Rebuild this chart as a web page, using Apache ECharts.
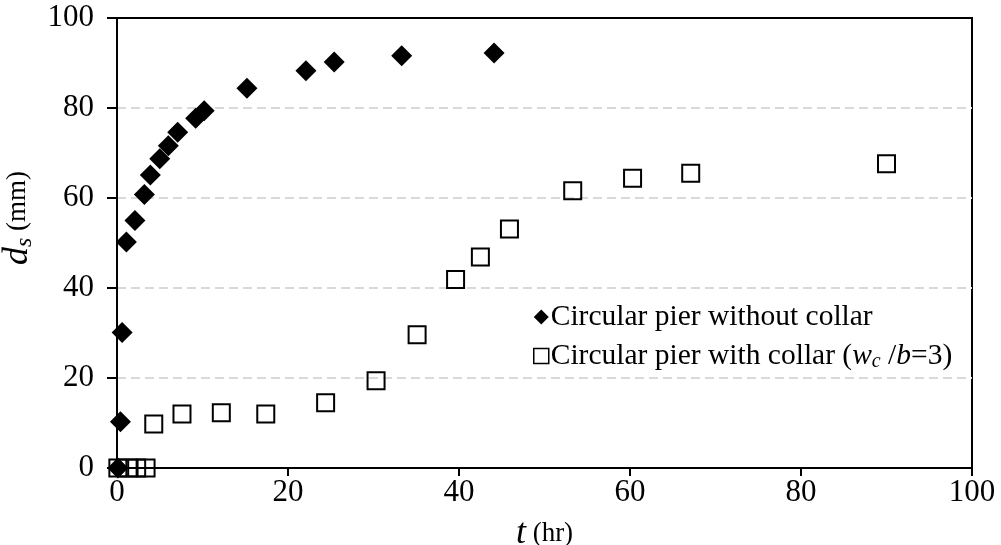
<!DOCTYPE html>
<html>
<head>
<meta charset="utf-8">
<script src="https://cdn.jsdelivr.net/npm/echarts@6/dist/echarts.min.js"></script>
<style>
html,body{margin:0;padding:0;background:#fff;}
#chart{width:1001px;height:545px;}
</style>
</head>
<body>
<div id="chart"></div>
<script>
// Circular pier without collar: [t (hr), d_s (mm)]
const withoutCollar = [
  [0.1, 0], [0.4, 10.3], [0.6, 30.1], [1.1, 50.2], [2.1, 55.0], [3.2, 60.8],
  [3.9, 65.1], [5.0, 68.7], [6.0, 71.6], [7.1, 74.6], [9.2, 77.7], [10.2, 79.4],
  [15.2, 84.4], [22.1, 88.3], [25.4, 90.2], [33.3, 91.6], [44.1, 92.2]
];
// Circular pier with collar (w_c/b = 3)
const withCollar = [
  [0.1, 0], [1.3, 0], [2.3, 0], [3.4, 0], [4.3, 9.8], [7.6, 12.0], [12.2, 12.3],
  [17.4, 12.0], [24.4, 14.5], [30.3, 19.4], [35.1, 29.6], [39.6, 41.9],
  [42.5, 46.9], [45.9, 53.1], [53.3, 61.6], [60.3, 64.4], [67.1, 65.5], [90.0, 67.6]
];
const seriesNames = ['Circular pier without collar', 'Circular pier with collar'];
const xTicks = [0, 20, 40, 60, 80, 100];
const yTicks = [0, 20, 40, 60, 80, 100];

const FONT = '"Liberation Serif", "Times New Roman", serif';
const chart = echarts.init(document.getElementById('chart'));
chart.setOption({
  animation: false,
  backgroundColor: '#fff',
  grid: { left: 117, right: 29, top: 18, bottom: 77, containLabel: false, outerBoundsMode: 'none',
    show: true, borderColor: '#000', borderWidth: 2, backgroundColor: 'transparent' },
  xAxis: {
    type: 'value', min: xTicks[0], max: xTicks[xTicks.length - 1], interval: 20,
    name: '{t|t} (hr)', nameLocation: 'middle', nameGap: 48,
    nameTextStyle: { fontFamily: FONT, fontSize: 27, color: '#000',
      rich: { t: { fontFamily: FONT, fontSize: 36, fontStyle: 'italic', color: '#000' } } },
    axisLine: { lineStyle: { color: '#000', width: 2 } },
    axisTick: { show: true, length: 8, lineStyle: { color: '#000', width: 2 } },
    axisLabel: { fontFamily: FONT, fontSize: 31, color: '#000', margin: 9 },
    splitLine: { show: false }
  },
  yAxis: {
    type: 'value', min: yTicks[0], max: yTicks[yTicks.length - 1], interval: 20,
    name: '{d|d}{s|s} (mm)', nameLocation: 'middle', nameGap: 61, nameRotate: 90,
    nameTextStyle: { fontFamily: FONT, fontSize: 27, color: '#000', padding: [0, 0, 0, 50], lineHeight: 38,
      rich: {
        d: { fontFamily: FONT, fontSize: 36, fontStyle: 'italic', color: '#000', lineHeight: 38 },
        s: { fontFamily: FONT, fontSize: 24, fontStyle: 'italic', color: '#000', verticalAlign: 'bottom', lineHeight: 24, padding: [10, 0, 0, 0] }
      } },
    axisLine: { lineStyle: { color: '#000', width: 2 } },
    axisTick: { show: true, length: 10, lineStyle: { color: '#000', width: 2 } },
    axisLabel: { fontFamily: FONT, fontSize: 31, color: '#000', margin: 23, padding: [5, 0, 0, 0] },
    splitLine: { show: true, showMinLine: false, showMaxLine: false,
      lineStyle: { color: '#d9d9d9', width: 2, type: [9, 5] } }
  },
  legend: {
    orient: 'vertical', left: 528, top: 296, itemWidth: 15, itemHeight: 15, itemGap: 7,
    data: [
      { name: seriesNames[0], icon: 'diamond', itemStyle: { color: '#000', borderWidth: 0 } },
      { name: seriesNames[1], icon: 'rect', itemStyle: { color: '#fff', borderColor: '#000', borderWidth: 1.5 } }
    ],
    formatter: function (n) {
      if (n === seriesNames[1]) return n + ' ({i|w}{sub|c}{n| /}{i|b}=3)';
      return n;
    },
    textStyle: { fontFamily: FONT, fontSize: 29.5, color: '#000', lineHeight: 32, padding: [0, 0, 0, -3],
      rich: {
        i: { fontFamily: FONT, fontSize: 29.5, fontStyle: 'italic', color: '#000', lineHeight: 32 },
        n: { fontFamily: FONT, fontSize: 29.5, color: '#000', lineHeight: 32 },
        sub: { fontFamily: FONT, fontSize: 20, fontStyle: 'italic', color: '#000', verticalAlign: 'bottom', lineHeight: 20, padding: [9, 0, 0, 0] }
      } }
  },
  series: [
    { name: seriesNames[0], type: 'scatter', data: withoutCollar, symbol: 'diamond', symbolSize: 21,
      itemStyle: { color: '#000', borderColor: '#000', borderWidth: 0, opacity: 1 }, z: 3 },
    { name: seriesNames[1], type: 'scatter', data: withCollar, symbol: 'rect', symbolSize: 17,
      itemStyle: { color: 'rgba(255,255,255,0)', borderColor: '#000', borderWidth: 2, opacity: 1 }, z: 2 }
  ]
});
</script>
</body>
</html>
